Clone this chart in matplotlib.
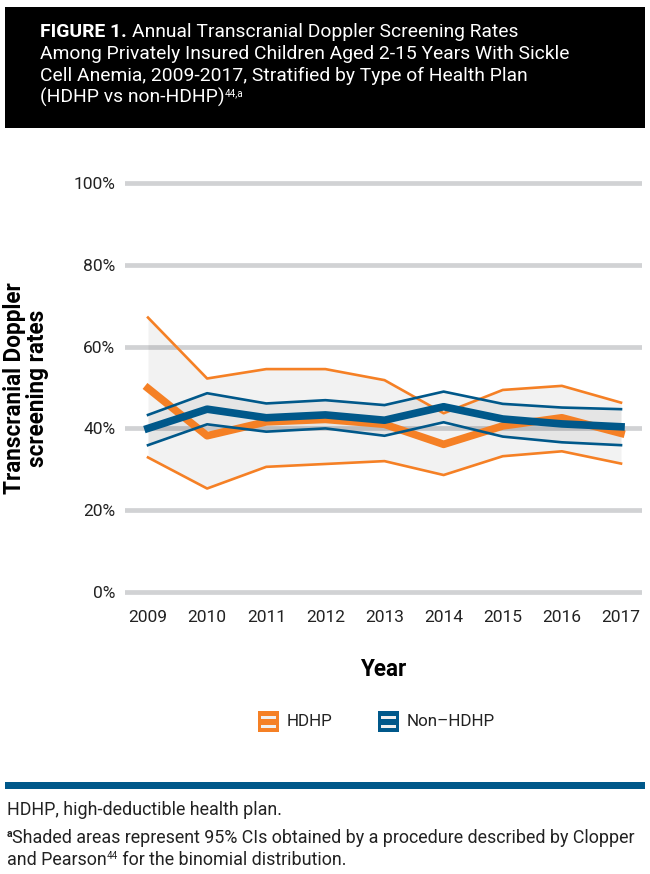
import matplotlib
matplotlib.use("Agg")
import matplotlib.pyplot as plt
from matplotlib.patches import Rectangle

years = [2009, 2010, 2011, 2012, 2013, 2014, 2015, 2016, 2017]
hdhp = [49.8, 38.2, 41.6, 42.2, 41.0, 36.1, 40.6, 42.6, 38.8]
hdhp_hi = [67.1, 52.2, 54.5, 54.5, 51.8, 43.7, 49.4, 50.4, 46.3]
hdhp_lo = [32.9, 25.3, 30.6, 31.3, 32.0, 28.6, 33.2, 34.4, 31.4]
non_hdhp = [40.0, 44.7, 42.6, 43.3, 42.0, 45.3, 42.3, 41.1, 40.4]
non_hi = [43.3, 48.6, 46.1, 46.9, 45.7, 49.0, 46.0, 45.1, 44.7]
non_lo = [35.9, 41.0, 39.2, 40.0, 38.2, 41.5, 38.0, 36.6, 35.9]
yticks = [0, 20, 40, 60, 80, 100]

title_lines = ["Annual Transcranial Doppler Screening Rates",
               "Among Privately Insured Children Aged 2-15 Years With Sickle",
               "Cell Anemia, 2009-2017, Stratified by Type of Health Plan",
               "(HDHP vs non-HDHP)"]
note1 = "HDHP, high-deductible health plan."
note2 = "Shaded areas represent 95% CIs obtained by a procedure described by Clopper"

ORANGE = "#f58025"
BLUE = "#00588a"
GRID = "#d1d2d4"
TXT = "#222222"

plt.rcParams["font.family"] = ["Roboto", "DejaVu Sans"]

W, H = 650, 874
fig = plt.figure(figsize=(W / 100, H / 100), dpi=100)
renderer = fig.canvas.get_renderer()


def fx(px):
    return px / W


def fy(py):
    return 1 - py / H


def width_of(t):
    return t.get_window_extent(renderer=renderer).width


def fit_size(txt, target, **kw):
    t = fig.text(0, 0, txt, fontsize=10, **kw)
    w = width_of(t)
    t.remove()
    return 10 * target / w


# title box
fig.patches.append(Rectangle((fx(5), fy(128)), fx(640), 121 / H, transform=fig.transFigure,
                             facecolor="black", edgecolor="none"))

tsize = fit_size(title_lines[1], 567 - 40)
b = fig.text(fx(40), fy(37), "FIGURE 1. ", color="white", fontsize=tsize, fontweight="bold",
             va="baseline")
fig.text(fx(40) + width_of(b) / W, fy(37), title_lines[0], color="white", fontsize=tsize,
         va="baseline")
for i, line in enumerate(title_lines[1:]):
    t = fig.text(fx(40), fy(59 + 22 * i), line, color="white", fontsize=tsize, va="baseline")
fig.text(fx(40) + width_of(t) / W, fy(96), "44,a", color="white", fontsize=7, va="baseline")

# axes
ylo, yhi = -2, 102
x_left, x_right = 125, 642
top_px = 183 - 409 * 2 / 100
bot_px = 592 + 409 * 2 / 100
ax = fig.add_axes([fx(x_left), fy(bot_px), fx(x_right - x_left), (bot_px - top_px) / H])
step = (621 - 148) / 8
ax.set_xlim(2009 - (148 - x_left) / step, 2017 + (x_right - 621) / step)
ax.set_ylim(ylo, yhi)

for v in yticks:
    ax.axhline(v, color=GRID, lw=3.4, zorder=0)

ax.fill_between(years, hdhp_lo, hdhp_hi, color="black", alpha=0.05, lw=0, zorder=1)
ax.fill_between(years, non_lo, non_hi, color="black", alpha=0.05, lw=0, zorder=1)

ax.plot(years, hdhp_hi, color=ORANGE, lw=1.9, zorder=2)
ax.plot(years, hdhp_lo, color=ORANGE, lw=1.9, zorder=2)
ax.plot(years, hdhp, color=ORANGE, lw=5.5, zorder=3)
ax.plot(years, non_hi, color=BLUE, lw=1.9, zorder=4)
ax.plot(years, non_lo, color=BLUE, lw=1.9, zorder=4)
ax.plot(years, non_hdhp, color=BLUE, lw=5.5, zorder=5)

ax.set_yticks(yticks)
ax.set_yticklabels([f"{v}%" for v in yticks])
ax.set_xticks(years)
ax.tick_params(length=0, labelsize=12.5, colors=TXT, pad=7)
for s in ax.spines.values():
    s.set_visible(False)
ax.patch.set_alpha(0)

ysize = fit_size("Transcranial Doppler", 212, fontweight="bold")
fig.text(fx(26), fy(388), "Transcranial Doppler\nscreening rates", rotation=90,
         ha="center", va="center", fontsize=ysize, fontweight="bold", linespacing=1.05)
fig.text(fx(383), fy(670), "Year", ha="center", va="center", fontsize=ysize, fontweight="bold")

# legend
lsize = fit_size("Non\u2013HDHP", 88)
for x0, col, lab in [(258, ORANGE, "HDHP"), (378, BLUE, "Non\u2013HDHP")]:
    fig.patches.append(Rectangle((fx(x0), fy(732)), fx(21), 21 / H, transform=fig.transFigure,
                                 facecolor=col, edgecolor="none"))
    fig.patches.append(Rectangle((fx(x0 + 3), fy(727.5)), fx(15), 3 / H, transform=fig.transFigure,
                                 facecolor="#f0f0f0", edgecolor="none"))
    fig.patches.append(Rectangle((fx(x0 + 3), fy(718.5)), fx(15), 3 / H, transform=fig.transFigure,
                                 facecolor="#f0f0f0", edgecolor="none"))
    fig.text(fx(x0 + 29), fy(722), lab, ha="left", va="center", fontsize=lsize, color=TXT)

# bottom bar and notes
fig.patches.append(Rectangle((fx(5), fy(789)), fx(640), 7 / H, transform=fig.transFigure,
                             facecolor=BLUE, edgecolor="none"))
nsize = fit_size(note2, 636 - 13)
fig.text(fx(7), fy(815), note1, fontsize=nsize, color=TXT, va="baseline")
a = fig.text(fx(7), fy(843) + 6 / H, "a", fontsize=7.5, fontweight="bold", color=TXT,
             va="baseline")
fig.text(fx(7) + width_of(a) / W, fy(843), note2, fontsize=nsize, color=TXT, va="baseline")
p = fig.text(fx(7), fy(865), "and Pearson", fontsize=nsize, color=TXT, va="baseline")
s = fig.text(fx(7) + width_of(p) / W, fy(865) + 6 / H, "44", fontsize=7, color=TXT, va="baseline")
fig.text(fx(7) + (width_of(p) + width_of(s)) / W, fy(865), " for the binomial distribution.",
         fontsize=nsize, color=TXT, va="baseline")

fig.savefig("out.png", dpi=100)
